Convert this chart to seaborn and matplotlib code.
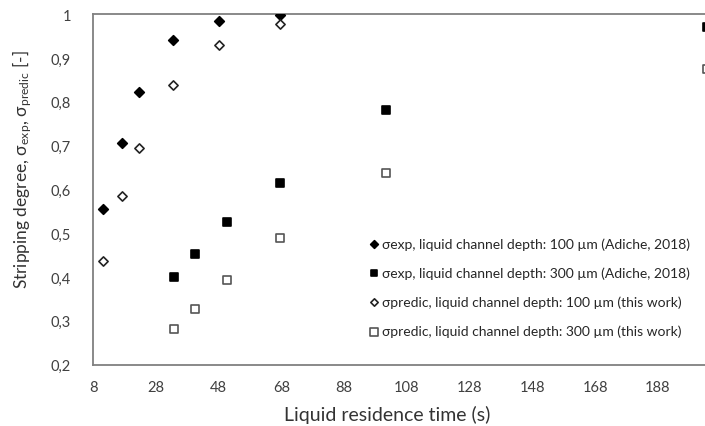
import numpy as np
import pandas as pd
import matplotlib
matplotlib.use("Agg")
import matplotlib.pyplot as plt
from matplotlib.ticker import FuncFormatter, MultipleLocator
import seaborn as sns

# liquid residence time (s) and stripping degree for each series
t_100 = [11.3, 17.1, 22.6, 33.6, 48.1, 67.6]
exp_100 = [0.555, 0.706, 0.823, 0.941, 0.985, 0.998]
pred_100 = [0.437, 0.584, 0.695, 0.839, 0.930, 0.977]

t_300 = [33.7, 40.6, 50.7, 67.6, 101.5, 203.5]
exp_300 = [0.400, 0.453, 0.526, 0.615, 0.782, 0.970]
pred_300 = [0.282, 0.327, 0.393, 0.489, 0.638, 0.874]

labels = [
    "σexp, liquid channel depth: 100 µm (Adiche, 2018)",
    "σexp, liquid channel depth: 300 µm (Adiche, 2018)",
    "σpredic, liquid channel depth: 100 µm (this work)",
    "σpredic, liquid channel depth: 300 µm (this work)",
]

sns.set_style("white")
plt.rcParams["font.family"] = ["Lato", "DejaVu Sans"]

fig = plt.figure(figsize=(7.05, 4.27), dpi=100)
ax = fig.add_axes([0.132, 0.1436, 0.868, 0.8206])

series = [
    (t_100, exp_100, "D", "black", "black", 24),
    (t_300, exp_300, "s", "black", "black", 32),
    (t_100, pred_100, "D", "white", "#222222", 22),
    (t_300, pred_300, "s", "white", "#555555", 40),
]

for (x, y, m, fc, ec, s), lab in zip(series, labels):
    df = pd.DataFrame({"t": x, "sigma": y})
    sns.scatterplot(data=df, x="t", y="sigma", marker=m, s=s, color=fc,
                    edgecolor=ec, linewidth=1.2, ax=ax, label=lab,
                    clip_on=True, zorder=3)

ax.set_xlim(8, 203)
ax.set_ylim(0.2, 1.0)
ax.set_xticks(np.arange(8, 200, 20))
ax.yaxis.set_major_locator(MultipleLocator(0.1))


def comma_fmt(v, pos):
    if abs(v - round(v)) < 1e-9:
        return str(int(round(v)))
    return f"{v:.1f}".replace(".", ",")


ax.yaxis.set_major_formatter(FuncFormatter(comma_fmt))
ax.tick_params(axis="both", length=0, labelsize=10.5, colors="#404040")
ax.tick_params(axis="x", pad=11)
ax.tick_params(axis="y", pad=16)

for side in ["left", "bottom", "top"]:
    ax.spines[side].set_color("#808080")
    ax.spines[side].set_linewidth(1.3)
ax.spines["right"].set_visible(False)

ax.set_xlabel("Liquid residence time (s)", fontsize=14, color="#333333")
ax.xaxis.set_label_coords(0.48, -0.115)
ax.set_ylabel(r"Stripping degree, $\mathregular{\sigma_{exp}}$, $\mathregular{\sigma_{predic}}$ [-]",
              fontsize=12.5, color="#333333", va="center")
ax.yaxis.set_label_coords(-0.116, 0.56)

leg = ax.legend(loc="upper left", bbox_to_anchor=(0.427, 0.40), frameon=False,
                fontsize=10, handletextpad=0.1, labelspacing=1.2,
                handlelength=1.0, markerscale=0.8)
for txt in leg.get_texts():
    txt.set_color("#262626")

fig.savefig("out.png", dpi=100)
